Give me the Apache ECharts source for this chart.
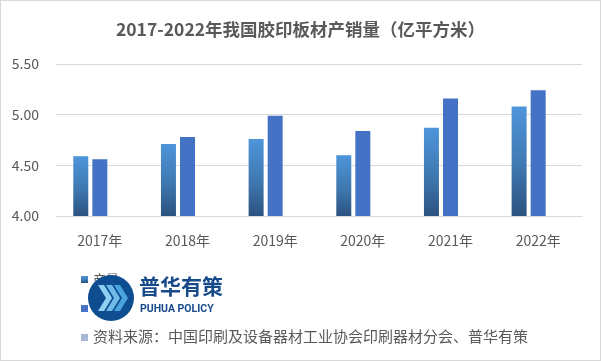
<!DOCTYPE html>
<html><head><meta charset="utf-8">
<script src="https://cdn.jsdelivr.net/npm/echarts@6/dist/echarts.min.js"></script>
<style>
html,body{margin:0;padding:0;background:#fff;}
#c{width:599px;height:359px;border:1px solid #d9d9d9;}
</style></head>
<body><div id="c"></div>
<script>
const categories = ['2017年','2018年','2019年','2020年','2021年','2022年'];
const seriesNames = ['产量','销量'];
const production = [4.59, 4.71, 4.76, 4.60, 4.87, 5.08];
const sales = [4.56, 4.78, 4.99, 4.84, 5.16, 5.24];
const yTicks = {min: 4, max: 5.5, interval: 0.5};
const titleText = '2017-2022年我国胶印板材产销量（亿平方米）';
const sourceText = '资料来源：中国印刷及设备器材工业协会印刷器材分会、普华有策';

const chart = echarts.init(document.getElementById('c'));
const font = '"Microsoft YaHei","Noto Sans CJK SC",sans-serif';
chart.setOption({
  animation: false,
  title: {text: titleText, left: 'center', top: 15,
    textStyle: {fontSize: 17.5, fontWeight: 'bold', color: '#595959', fontFamily: font}},
  grid: {left: 55, right: 18, top: 63, bottom: 144},
  legend: {data: seriesNames, orient: 'vertical', left: 75, top: 267, itemWidth: 7, itemHeight: 7,
    itemGap: 16, icon: 'rect', textStyle: {fontSize: 13, color: '#595959', fontFamily: font}},
  xAxis: {type: 'category', data: categories,
    axisLine: {lineStyle: {color: '#d9d9d9'}}, axisTick: {show: false},
    axisLabel: {fontSize: 14, color: '#595959', margin: 18, fontFamily: font}},
  yAxis: {type: 'value', min: yTicks.min, max: yTicks.max, interval: yTicks.interval,
    axisLabel: {fontSize: 14, color: '#595959', margin: 17, formatter: v => v.toFixed(2), fontFamily: font},
    splitLine: {lineStyle: {color: '#d9d9d9'}}, axisLine: {show: false}, axisTick: {show: false}},
  series: [
    {name: seriesNames[0], type: 'bar', data: production, barWidth: 15, barGap: '27%',
      itemStyle: {color: new echarts.graphic.LinearGradient(0,0,0,1,[
        {offset: 0, color: '#4e95db'}, {offset: 0.55, color: '#3f78b0'}, {offset: 1, color: '#2b5280'}])}},
    {name: seriesNames[1], type: 'bar', data: sales, barWidth: 15, barGap: '27%',
      itemStyle: {color: '#4472c4'}},
    {name: 'blank', type: 'bar', data: [], barWidth: 15, barGap: '27%'}
  ],
  graphic: [
    {type: 'rect', shape: {x: 88, y: 280, width: 142, height: 42}, style: {fill: '#fff'}, z: 99},
    {type: 'circle', shape: {cx: 110, cy: 297, r: 23}, style: {fill: '#0e4d8f'}, z: 100},
    {type: 'polygon', shape: {points: [[97,284],[103,284],[111,297],[103,310],[97,310],[105,297]]}, style: {fill: '#8fd0f2'}, z: 101},
    {type: 'polygon', shape: {points: [[105,284],[111,284],[119,297],[111,310],[105,310],[113,297]]}, style: {fill: '#6fbbe8'}, z: 101},
    {type: 'polygon', shape: {points: [[113,284],[119,284],[127,297],[119,310],[113,310],[121,297]]}, style: {fill: '#4aa3dd'}, z: 101},
    {type: 'text', left: 138, top: 275, style: {text: '普华有策', font: 'bold 21px "Noto Sans CJK SC"', fill: '#174a8a'}, z: 101},
    {type: 'text', left: 139, top: 303, style: {text: 'PUHUA POLICY', font: 'bold 10.5px "Roboto"', fill: '#174a8a'}, z: 101},
    {type: 'rect', shape: {x: 80, y: 333, width: 7, height: 7}, style: {fill: '#a9b7d6'}},
    {type: 'text', left: 92, top: 328, style: {text: sourceText, font: '15px ' + font, fill: '#595959'}}
  ]
});
</script></body></html>
